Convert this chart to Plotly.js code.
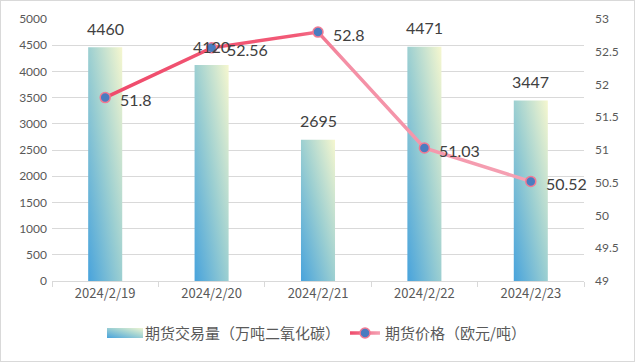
<!DOCTYPE html>
<html>
<head>
<meta charset="utf-8">
<script src="https://cdn.plot.ly/plotly-3.0.1.min.js"></script>
<style>
  html, body { margin: 0; padding: 0; background: #fff; }
  #chart { width: 633px; height: 360px; border: 1px solid #d9d9d9; }
</style>
</head>
<body>
<div id="chart"></div>
<script>
const categories = ['2024/2/19', '2024/2/20', '2024/2/21', '2024/2/22', '2024/2/23'];
const volume = [4460, 4120, 2695, 4471, 3447];
const price = [51.8, 52.56, 52.8, 51.03, 50.52];
const volumeName = '期货交易量（万吨二氧化碳）';
const priceName = '期货价格（欧元/吨）';

const numFont = 'Lato, "Noto Sans", sans-serif';
const cjkFont = '"Noto Sans CJK SC", sans-serif';

const data = [
  {
    type: 'bar',
    name: volumeName,
    x: categories,
    y: volume,
    width: 0.32,
    marker: { color: '#8fcad3' },
    hoverinfo: 'none'
  },
  {
    type: 'scatter',
    mode: 'lines+markers',
    name: priceName,
    x: categories,
    y: price,
    yaxis: 'y2',
    line: { color: '#f0506e', width: 3.5 },
    marker: { color: '#4a7cc0', size: 10, line: { color: '#f27a93', width: 1.5 } },
    cliponaxis: false,
    hoverinfo: 'none'
  }
];

const barLabels = categories.map((c, i) => ({
  x: c, y: volume[i], xref: 'x', yref: 'y',
  text: String(volume[i]), showarrow: false,
  yanchor: 'middle', yshift: 19,
  font: { family: numFont, size: 16, color: '#404040' }
}));
const priceLabels = categories.map((c, i) => ({
  x: c, y: price[i], xref: 'x', yref: 'y2',
  text: String(price[i]), showarrow: false,
  xanchor: 'left', xshift: 13, yanchor: 'middle', yshift: -2,
  font: { family: numFont, size: 16, color: '#404040' }
}));

const layout = {
  width: 633, height: 360,
  margin: { l: 51, r: 50, t: 18, b: 79 },
  paper_bgcolor: '#ffffff', plot_bgcolor: '#ffffff',
  showlegend: true,
  legend: {
    orientation: 'h', x: 0.5, xanchor: 'center', y: -0.195, yanchor: 'middle',
    font: { family: cjkFont, size: 15, color: '#595959' },
    itemclick: false, itemdoubleclick: false, tracegroupgap: 0
  },
  xaxis: {
    type: 'category',
    range: [-0.5, categories.length - 0.5], autorange: false,
    showline: true, linecolor: '#d9d9d9', linewidth: 1,
    ticks: 'outside', tickson: 'boundaries', ticklen: 5, tickcolor: '#d9d9d9',
    tickfont: { family: cjkFont, size: 13, color: '#595959' },
    showgrid: false, zeroline: false
  },
  yaxis: {
    range: [0, 5000], dtick: 500, tick0: 0,
    showgrid: true, gridcolor: '#d9d9d9', gridwidth: 1,
    zeroline: false, showline: false, ticks: '',
    tickfont: { family: numFont, size: 12, color: '#595959' },
    ticklabelstandoff: 4
  },
  yaxis2: {
    overlaying: 'y', side: 'right',
    range: [49, 53], dtick: 0.5, tick0: 49,
    showgrid: false, zeroline: false, showline: false, ticks: '',
    tickfont: { family: numFont, size: 12, color: '#595959' },
    ticklabelstandoff: 10
  },
  annotations: barLabels.concat(priceLabels)
};

function addGradient(defs, id, attrs, stops) {
  const ns = 'http://www.w3.org/2000/svg';
  const g = document.createElementNS(ns, 'linearGradient');
  g.setAttribute('id', id);
  Object.keys(attrs).forEach(k => g.setAttribute(k, attrs[k]));
  stops.forEach(s => {
    const st = document.createElementNS(ns, 'stop');
    st.setAttribute('offset', s[0]);
    st.setAttribute('stop-color', s[1]);
    g.appendChild(st);
  });
  defs.appendChild(g);
}

Plotly.newPlot('chart', data, layout, { staticPlot: true, displayModeBar: false }).then(gd => {
  const svg = gd.querySelector('svg.main-svg');
  let defs = svg.querySelector('defs');
  if (!defs) { defs = document.createElementNS('http://www.w3.org/2000/svg', 'defs'); svg.insertBefore(defs, svg.firstChild); }
  const barStops = [[0, '#48a3dc'], [0.5, '#9ccfd1'], [1, '#f6f7cf']];
  addGradient(defs, 'barGrad', { x1: 0, y1: 1, x2: 1, y2: 0 }, barStops);
  gd.querySelectorAll('.barlayer .point path').forEach(p => { p.style.fill = 'url(#barGrad)'; });
  addGradient(defs, 'legBarGrad', { x1: 0, y1: 1, x2: 1, y2: 0 }, [[0, '#48a3dc'], [0.6, '#a9d6d2'], [1, '#eef5d2']]);
  const legTraces = gd.querySelectorAll('.legend .traces');
  if (legTraces[0]) {
    legTraces[0].querySelectorAll('.legendpoints path').forEach(p => {
      p.setAttribute('d', 'M18,5H-18V-5H18Z');
      p.style.fill = 'url(#legBarGrad)';
      p.style.stroke = 'none';
    });
  }
  const lineStops = [[0, '#ef4b6b'], [0.45, '#f25a77'], [0.56, '#f48fa5'], [1, '#f5a2b4']];
  gd.querySelectorAll('.scatterlayer .js-line').forEach((p, i) => {
    const bb = p.getBBox();
    const id = 'lineGrad' + i;
    addGradient(defs, id, { gradientUnits: 'userSpaceOnUse', x1: bb.x, y1: 0, x2: bb.x + bb.width, y2: 0 }, lineStops);
    p.style.stroke = 'url(#' + id + ')';
  });
  if (legTraces[1]) {
    legTraces[1].querySelectorAll('.legendpoints path.js-line, .legendlines path').forEach((p, i) => {
      const bb = p.getBBox();
      const id = 'legLineGrad' + i;
      addGradient(defs, id, { gradientUnits: 'userSpaceOnUse', x1: bb.x, y1: 0, x2: bb.x + bb.width, y2: 0 }, [[0, '#ef4b6b'], [1, '#f5a2b4']]);
      p.style.stroke = 'url(#' + id + ')';
    });
  }
});
</script>
</body>
</html>
